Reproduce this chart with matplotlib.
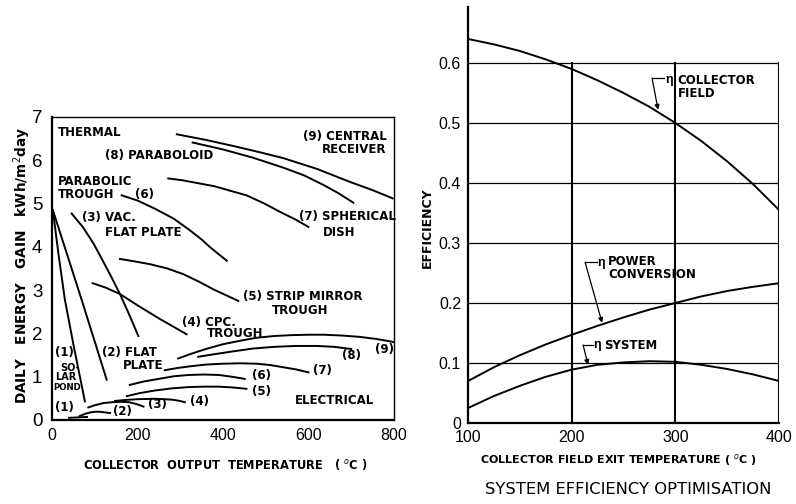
import matplotlib
matplotlib.use("Agg")
import matplotlib.pyplot as plt

plt.rcParams["font.family"] = ["Liberation Sans", "DejaVu Sans"]

# ---- left panel: daily energy gain curves (temperature degC, kWh/m2 day)
# thermal
th1_x = [2, 15, 30, 50, 77]
th1_y = [4.85, 3.85, 2.79, 1.75, 0.43]
th2_x = [2, 69, 128]
th2_y = [4.85, 2.79, 0.93]
th3_x = [46, 72, 97, 115, 137, 159, 180, 202]
th3_y = [4.77, 4.46, 4.08, 3.75, 3.34, 2.91, 2.45, 1.94]
th4_x = [95, 125, 159, 200, 253, 285, 315]
th4_y = [3.16, 3.06, 2.91, 2.65, 2.33, 2.15, 1.98]
th5_x = [159, 190, 229, 270, 307, 345, 377, 410, 436]
th5_y = [3.72, 3.67, 3.60, 3.50, 3.37, 3.19, 3.02, 2.87, 2.75]
th6_x = [163, 200, 241, 285, 323, 350, 370, 390, 409]
th6_y = [5.19, 5.07, 4.88, 4.65, 4.38, 4.17, 3.99, 3.83, 3.68]
th7_x = [272, 304, 380, 455, 495, 533, 570, 600]
th7_y = [5.58, 5.54, 5.40, 5.19, 5.01, 4.81, 4.63, 4.46]
th8_x = [329, 400, 470, 541, 590, 635, 670, 705]
th8_y = [6.41, 6.25, 6.06, 5.83, 5.65, 5.43, 5.24, 5.02]
th9_x = [292, 360, 424, 480, 541, 620, 697, 750, 797]
th9_y = [6.60, 6.47, 6.33, 6.20, 6.05, 5.80, 5.50, 5.31, 5.12]

# electrical
el1_x = [40, 60, 82]
el1_y = [0.05, 0.06, 0.07]
el2_x = [65, 72, 80, 90, 101, 112, 120, 136]
el2_y = [0.09, 0.12, 0.15, 0.175, 0.19, 0.19, 0.18, 0.16]
el3_x = [85, 100, 120, 140, 163, 180, 197, 214]
el3_y = [0.29, 0.34, 0.39, 0.41, 0.42, 0.41, 0.37, 0.31]
el4_x = [147, 175, 200, 241, 262, 280, 297, 311]
el4_y = [0.44, 0.465, 0.48, 0.49, 0.48, 0.47, 0.445, 0.41]
el5_x = [175, 205, 240, 280, 320, 355, 390, 425, 455]
el5_y = [0.55, 0.62, 0.68, 0.73, 0.76, 0.77, 0.77, 0.75, 0.72]
el6_x = [182, 215, 250, 285, 320, 355, 390, 420, 451]
el6_y = [0.81, 0.89, 0.95, 1.01, 1.04, 1.05, 1.04, 1.00, 0.95]
el7_x = [264, 293, 323, 360, 400, 440, 479, 510, 540, 570, 600]
el7_y = [1.15, 1.20, 1.24, 1.28, 1.30, 1.31, 1.30, 1.27, 1.22, 1.17, 1.10]
el8_x = [342, 380, 420, 470, 520, 570, 620, 660, 700]
el8_y = [1.46, 1.52, 1.58, 1.65, 1.69, 1.71, 1.71, 1.69, 1.64]
el9_x = [295, 323, 360, 400, 440, 479, 520, 560, 600, 635, 680, 720, 760, 800]
el9_y = [1.42, 1.52, 1.64, 1.75, 1.83, 1.90, 1.94, 1.96, 1.97, 1.97, 1.95, 1.92, 1.87, 1.80]

left_xticks = [0, 200, 400, 600, 800]
left_yticks = [0, 1, 2, 3, 4, 5, 6, 7]

# ---- right panel: efficiency vs collector field exit temperature
temp = [100, 125, 150, 175, 200, 225, 250, 275, 300, 325, 350, 375, 400]
eta_collector = [0.640, 0.631, 0.620, 0.606, 0.590, 0.571, 0.550, 0.527, 0.500,
                 0.470, 0.436, 0.398, 0.355]
eta_power = [0.070, 0.093, 0.113, 0.131, 0.147, 0.162, 0.176, 0.189, 0.200,
             0.211, 0.220, 0.227, 0.233]
eta_system = [0.025, 0.045, 0.062, 0.077, 0.089, 0.097, 0.101, 0.103, 0.102,
              0.097, 0.090, 0.081, 0.070]
right_yticks = [0, 0.1, 0.2, 0.3, 0.4, 0.5, 0.6]
right_ylabels = ["0", "0.1", "0.2", "0.3", "0.4", "0.5", "0.6"]
right_xticks = [100, 200, 300, 400]

LW = 1.4
BOLD = dict(fontsize=8.5, fontweight="bold", family="DejaVu Sans")

fig = plt.figure(figsize=(7.96, 5.04), dpi=100)

# ================= left panel =================
ax = fig.add_axes([0.0653, 0.1667, 0.4296, 0.6012])
curves = [(th1_x, th1_y), (th2_x, th2_y), (th3_x, th3_y), (th4_x, th4_y),
          (th5_x, th5_y), (th6_x, th6_y), (th7_x, th7_y), (th8_x, th8_y),
          (th9_x, th9_y), (el1_x, el1_y), (el2_x, el2_y), (el3_x, el3_y),
          (el4_x, el4_y), (el5_x, el5_y), (el6_x, el6_y), (el7_x, el7_y),
          (el8_x, el8_y), (el9_x, el9_y)]
for cx, cy in curves:
    ax.plot(cx, cy, color="black", lw=LW, solid_joinstyle="round")
ax.set_xlim(0, 800)
ax.set_ylim(0, 7)
ax.set_xticks(left_xticks)
ax.set_yticks(left_yticks)
ax.tick_params(axis="x", length=0, pad=6, labelsize=11.5)
ax.tick_params(axis="y", length=0, pad=7, labelsize=13.5)
for s in ["left", "bottom"]:
    ax.spines[s].set_linewidth(1.6)
for s in ["top", "right"]:
    ax.spines[s].set_linewidth(1.0)

ax.text(14, 6.65, "THERMAL", va="center", **BOLD)
ax.text(14, 5.36, "PARABOLIC\nTROUGH", va="center", linespacing=1.0, **BOLD)
ax.text(124, 6.12, "(8) PARABOLOID", va="center", **BOLD)
ax.text(783, 6.40, "(9) CENTRAL\nRECEIVER", va="center", ha="right",
        multialignment="right", linespacing=1.0, **BOLD)
ax.text(194, 5.22, "(6)", va="center", **BOLD)
ax.text(70, 4.67, "(3) VAC.", va="center", **BOLD)
ax.text(124, 4.34, "FLAT PLATE", va="center", **BOLD)
ax.text(578, 4.69, "(7) SPHERICAL", va="center", **BOLD)
ax.text(634, 4.32, "DISH", va="center", **BOLD)
ax.text(447, 2.86, "(5) STRIP MIRROR", va="center", **BOLD)
ax.text(515, 2.54, "TROUGH", va="center", **BOLD)
ax.text(304, 2.26, "(4) CPC.", va="center", **BOLD)
ax.text(363, 1.99, "TROUGH", va="center", **BOLD)
ax.text(117, 1.55, "(2) FLAT", va="center", **BOLD)
ax.text(166, 1.27, "PLATE", va="center", **BOLD)
ax.text(7, 1.57, "(1)", va="center", **BOLD)
ax.text(19, 1.20, "SO-", va="center", fontsize=7, fontweight="bold", family="DejaVu Sans")
ax.text(7, 0.99, "LAR", va="center", fontsize=7, fontweight="bold", family="DejaVu Sans")
ax.text(2, 0.76, "POND", va="center", fontsize=6.2, fontweight="bold", family="DejaVu Sans")
ax.text(7, 0.28, "(1)", va="center", **BOLD)
ax.text(143, 0.19, "(2)", va="center", **BOLD)
ax.text(225, 0.35, "(3)", va="center", **BOLD)
ax.text(323, 0.42, "(4)", va="center", **BOLD)
ax.text(468, 0.65, "(5)", va="center", **BOLD)
ax.text(468, 1.02, "(6)", va="center", **BOLD)
ax.text(611, 1.15, "(7)", va="center", **BOLD)
ax.text(678, 1.48, "(8)", va="center", **BOLD)
ax.text(755, 1.62, "(9)", va="center", **BOLD)
ax.text(568, 0.46, "ELECTRICAL", va="center", **BOLD)

fig.text(225 / 796, 1 - 465 / 504, "COLLECTOR  OUTPUT  TEMPERATURE   ( $^{o}$C )",
         ha="center", va="center", fontsize=8.3, fontweight="bold", family="DejaVu Sans")
fig.text(22 / 796, 1 - 265 / 504, "DAILY   ENERGY   GAIN   kWh/m$^{2}$day", rotation=90,
         ha="center", va="center", fontsize=9.8, fontweight="bold", family="DejaVu Sans")

# ================= right panel =================
ax2 = fig.add_axes([0.588, 0.1607, 0.3907, 0.8254])
ax2.plot(temp, eta_collector, color="black", lw=LW)
ax2.plot(temp, eta_power, color="black", lw=LW)
ax2.plot(temp, eta_system, color="black", lw=LW)
ax2.set_xlim(100, 400)
ax2.set_ylim(0, 0.6933)
for yv in right_yticks[1:]:
    ax2.plot([100, 400], [yv, yv], color="black", lw=0.9)
for xv in right_xticks[1:3]:
    ax2.plot([xv, xv], [0, 0.6], color="black", lw=1.5)
ax2.plot([400, 400], [0, 0.6], color="black", lw=1.5)
ax2.spines["top"].set_visible(False)
ax2.spines["right"].set_visible(False)
ax2.spines["left"].set_linewidth(1.6)
ax2.spines["bottom"].set_linewidth(1.6)
ax2.set_xticks(right_xticks)
ax2.set_yticks(right_yticks)
ax2.set_yticklabels(right_ylabels)
ax2.tick_params(axis="x", length=0, pad=5, labelsize=11.5)
ax2.tick_params(axis="y", length=0, pad=5, labelsize=11.5)

arrow = dict(arrowstyle="-|>", color="black", lw=0.9, shrinkA=0, shrinkB=0,
             mutation_scale=7)
# eta collector field
ax2.plot([277.5, 289], [0.575, 0.575], color="black", lw=0.9)
ax2.annotate("", xy=(283.3, 0.522), xytext=(277.5, 0.575), arrowprops=arrow)
ax2.text(290, 0.572, "η", va="center", fontsize=9, fontweight="bold")
ax2.text(302, 0.560, "COLLECTOR\nFIELD", va="center", linespacing=1.0, **BOLD)
# eta power conversion
ax2.plot([212.9, 224], [0.268, 0.268], color="black", lw=0.9)
ax2.annotate("", xy=(229.3, 0.167), xytext=(212.9, 0.268), arrowprops=arrow)
ax2.text(225, 0.267, "η", va="center", fontsize=9, fontweight="bold")
ax2.text(235, 0.258, "POWER\nCONVERSION", va="center", linespacing=1.0, **BOLD)
# eta system
ax2.plot([211, 220.5], [0.13, 0.13], color="black", lw=0.9)
ax2.annotate("", xy=(215.7, 0.097), xytext=(211, 0.13), arrowprops=arrow)
ax2.text(221, 0.13, "η", va="center", fontsize=9, fontweight="bold")
ax2.text(231, 0.13, "SYSTEM", va="center", **BOLD)

fig.text(427 / 796, 1 - 228 / 504, "EFFICIENCY", rotation=90, ha="center",
         va="center", fontsize=9, fontweight="bold", family="DejaVu Sans")
fig.text(618 / 796, 1 - 460 / 504, "COLLECTOR FIELD EXIT TEMPERATURE ( $^{o}$C )",
         ha="center", va="center", fontsize=8, fontweight="bold", family="DejaVu Sans")
fig.text(628 / 796, 1 - 490 / 504, "SYSTEM EFFICIENCY OPTIMISATION",
         ha="center", va="center", fontsize=11.8, family="DejaVu Sans")

fig.savefig("out.png", dpi=100)
